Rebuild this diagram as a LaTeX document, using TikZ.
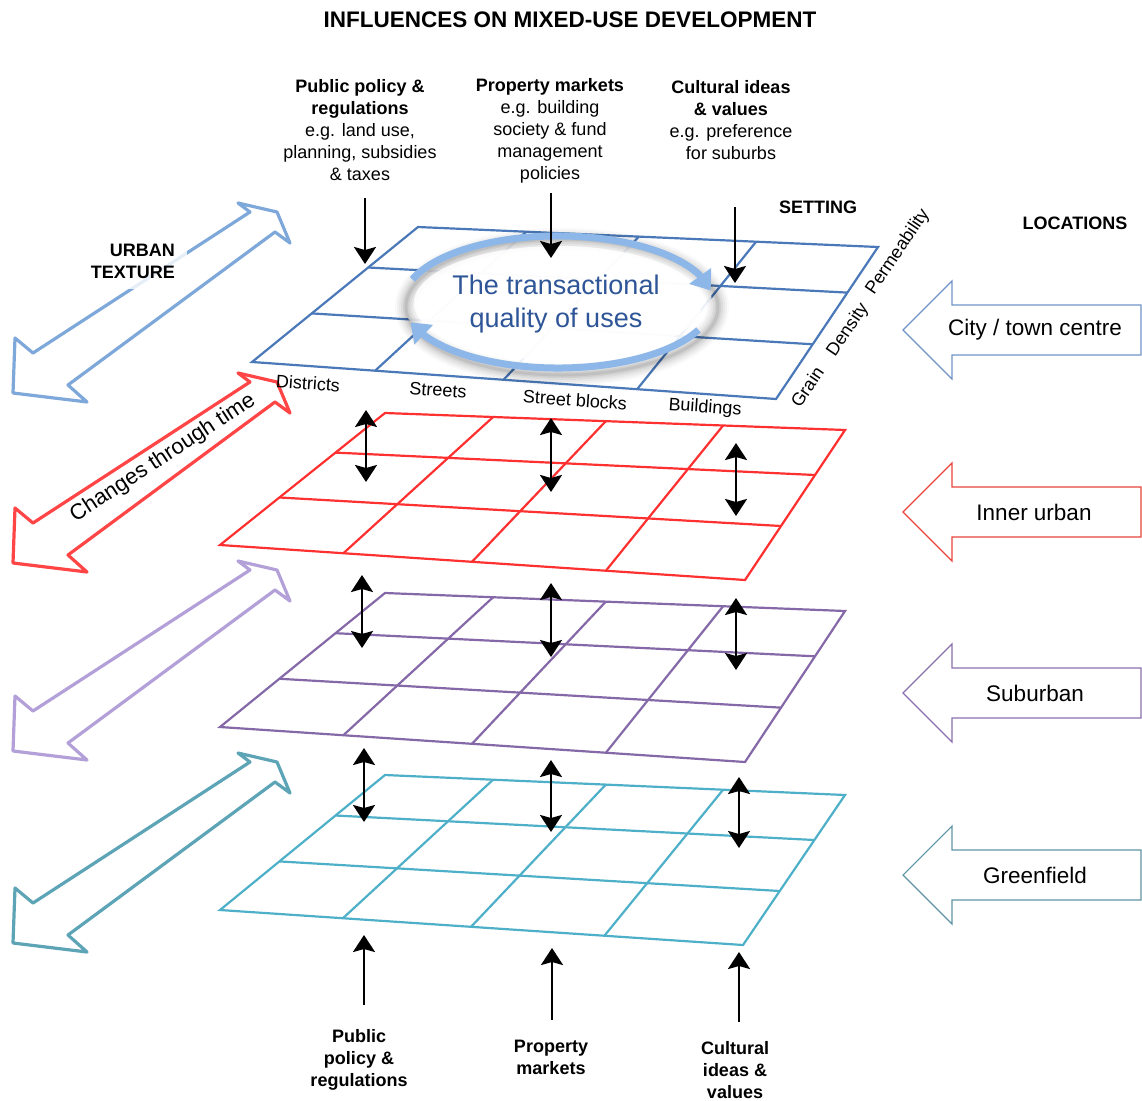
\documentclass[tikz,border=0pt]{standalone}
\usepackage{fontspec}
\setmainfont{Liberation Sans}
\usetikzlibrary{arrows.meta,calc,bending}
\definecolor{gridblue}{HTML}{4A78B8}
\definecolor{gridred}{HTML}{FF3030}
\definecolor{gridpurple}{HTML}{8568A8}
\definecolor{gridcyan}{HTML}{4EB0C8}
\definecolor{arrblue}{HTML}{7FA8DA}
\definecolor{arrred}{HTML}{FF4545}
\definecolor{arrpurple}{HTML}{B3A0D8}
\definecolor{arrteal}{HTML}{5CA4B6}
\definecolor{locblue}{HTML}{6F93C6}
\definecolor{locred}{HTML}{E8443C}
\definecolor{locpurple}{HTML}{8B6FAE}
\definecolor{locteal}{HTML}{5E93A5}
\definecolor{ringblue}{HTML}{8DB7E8}
\definecolor{txtblue}{HTML}{2E5597}

\newcommand{\mkgrid}[6]{%
  \coordinate (#1-a) at (#3);
  \coordinate (#1-b) at (#4);
  \coordinate (#1-c) at (#6);
  \coordinate (#1-d) at (#5);
  \draw[gridline,#2] (#1-a) -- (#1-b) -- (#1-c) -- (#1-d) -- cycle;
  \foreach \f in {0.235,0.48,0.735}{\draw[gridline,#2] ($(#1-a)!\f!(#1-b)$) -- ($(#1-d)!\f!(#1-c)$);}
  \foreach \f in {0.3,0.64}{\draw[gridline,#2] ($(#1-a)!\f!(#1-d)$) -- ($(#1-b)!\f!(#1-c)$);}
}
\newcommand{\bigdarrow}[2]{%
  \draw[bigarr,#1,shift={(0,#2)}] (15,338) -- (13,393) -- (87,402) -- (68,385) -- (275,232) -- (290,243) -- (277,212) -- (238,203) -- (250,212) -- (33,353) -- cycle;}
\newcommand{\locarrow}[2]{%
  \draw[locarr,#1,shift={(0,#2)}] (903,0) -- (952,-49) -- (952,-25) -- (1141,-25) -- (1141,25) -- (952,25) -- (952,49) -- cycle;}

\begin{document}
\begin{tikzpicture}[x=1pt,y=-1pt,
  gridline/.style={line width=2.2pt,line join=miter},
  bigarr/.style={line width=3.2pt,line join=round},
  locarr/.style={line width=1.1pt,line join=miter},
  blk/.style={line width=2.4pt,-{Stealth[length=17pt,width=22pt,inset=3pt]}},
  blkd/.style={line width=2.4pt,{Stealth[length=17pt,width=22pt,inset=3pt]}-{Stealth[length=17pt,width=22pt,inset=3pt]}},
  ringarr/.style={ringblue,line width=7pt,-{Triangle[length=18pt,width=26pt]}},
  lab/.style={font=\fontsize{18}{22}\selectfont,align=center,inner sep=0pt},
  blab/.style={font=\fontsize{18}{22}\selectfont\bfseries,align=center,inner sep=0pt},
  loctxt/.style={font=\fontsize{22.5}{26}\selectfont,inner sep=0pt}]
\useasboundingbox (0,0) rectangle (1142,1100);

% left diagonal double arrows
\bigdarrow{arrblue}{0}
\bigdarrow{arrred}{170}
\bigdarrow{arrpurple}{358}
\bigdarrow{arrteal}{550}

% grids
\mkgrid{gb}{gridblue}{418,227}{878,247}{252,362}{776,399}
\mkgrid{gr}{gridred}{385,413}{845,430}{220,545}{745,580}
\mkgrid{gp}{gridpurple}{385,593}{845,611}{220,727}{745,762}
\mkgrid{gc}{gridcyan}{385,775}{845,795}{220,910}{743,945}

% transactional ring
\fill[white,opacity=0.9] (558,303) ellipse [x radius=154, y radius=66];
\foreach \w/\o in {22/0.025,18/0.03,14/0.04,10/0.05,6/0.06,3/0.07}{\draw[black,opacity=\o,line width=\w pt] (562,307) ellipse [x radius=156, y radius=68];}
\fill[white,opacity=0.85] (558,303) ellipse [x radius=144, y radius=57];
\draw[ringarr] (412.4,279.4) arc[start angle=200,end angle=350,x radius=155,y radius=66];
\draw[ringarr] (698.5,329.9) arc[start angle=25,end angle=162,x radius=155,y radius=66];
\node[font=\fontsize{27}{33}\selectfont,align=center,text=txtblue,inner sep=0pt] (tq) at (556,304) {The transactional\\quality of uses};

% title and headings
\node[font=\fontsize{22.5}{26}\selectfont\bfseries,inner sep=0pt] (title) at (570,20) {INFLUENCES ON MIXED-USE DEVELOPMENT};
\node[blab] (setting) at (818,207) {SETTING};
\node[blab] (locs) at (1075,223) {LOCATIONS};
\fill[white,opacity=0.8] (27,235) rectangle (187,289);
\node[blab,align=right,anchor=east] (ut) at (175,261) {URBAN\\TEXTURE};
\node[font=\fontsize{22}{26}\selectfont,rotate=33.3,inner sep=0pt] (ctt) at (163,458) {Changes through time};

% influence labels
\node[lab] (pp) at (360,130) {\textbf{Public policy \&}\\\textbf{regulations}\\e.g. land use,\\planning, subsidies\\\& taxes};
\node[lab] (pm) at (550,131) {\textbf{Property markets}\\e.g. building\\society \& fund\\management\\policies};
\node[lab] (cv) at (731,120) {\textbf{Cultural ideas}\\\textbf{\& values}\\e.g. preference\\for suburbs};
\node[blab] (bpp) at (359,1060) {Public\\policy \&\\regulations};
\node[blab] (bpm) at (551,1057) {Property\\markets};
\node[blab] (bcv) at (735,1070) {Cultural\\ideas \&\\values};

% grid labels
\node[lab,rotate=-4] (dis) at (308,383) {Districts};
\node[lab,rotate=-4] (str) at (438,390) {Streets};
\node[lab,rotate=-4] (sbl) at (575,400) {Street blocks};
\node[lab,rotate=-4] (bld) at (705,408) {Buildings};
\node[lab,rotate=56] (grain) at (807,387) {Grain};
\node[lab,rotate=56] (dens) at (848,330) {Density};
\node[lab,rotate=56] (perm) at (898,252) {Permeability};

% black arrows
\coordinate (t1s) at (365,198); \coordinate (t1e) at (365,264);
\coordinate (t2s) at (551,193); \coordinate (t2e) at (551,258);
\coordinate (t3s) at (735,207); \coordinate (t3e) at (735,283);
\draw[blk] (t1s) -- (t1e);
\draw[blk] (t2s) -- (t2e);
\draw[blk] (t3s) -- (t3e);
\coordinate (a1s) at (366,410); \coordinate (a1e) at (366,482);
\coordinate (a2s) at (551,418); \coordinate (a2e) at (551,492);
\coordinate (a3s) at (736,443); \coordinate (a3e) at (736,516);
\coordinate (b1s) at (362,575); \coordinate (b1e) at (362,648);
\coordinate (b2s) at (551,583); \coordinate (b2e) at (551,657);
\coordinate (b3s) at (736,598); \coordinate (b3e) at (736,670);
\coordinate (c1s) at (364,748); \coordinate (c1e) at (364,822);
\coordinate (c2s) at (551,760); \coordinate (c2e) at (551,832);
\coordinate (c3s) at (739,777); \coordinate (c3e) at (739,848);
\foreach \p in {a1,a2,a3,b1,b2,b3,c1,c2,c3}{\draw[blkd] (\p s) -- (\p e);}
\coordinate (u1s) at (364,1005); \coordinate (u1e) at (364,935);
\coordinate (u2s) at (552,1020); \coordinate (u2e) at (552,948);
\coordinate (u3s) at (739,1022); \coordinate (u3e) at (739,952);
\draw[blk] (u1s) -- (u1e);
\draw[blk] (u2s) -- (u2e);
\draw[blk] (u3s) -- (u3e);

% location arrows
\locarrow{locblue}{330}
\locarrow{locred}{512}
\locarrow{locpurple}{693}
\locarrow{locteal}{875}
\node[loctxt] (city) at (1035,330) {City / town centre};
\node[loctxt] (inner) at (1034,512) {Inner urban};
\node[loctxt] (sub) at (1035,693) {Suburban};
\node[loctxt] (green) at (1035,875) {Greenfield};
\end{tikzpicture}
\end{document}
